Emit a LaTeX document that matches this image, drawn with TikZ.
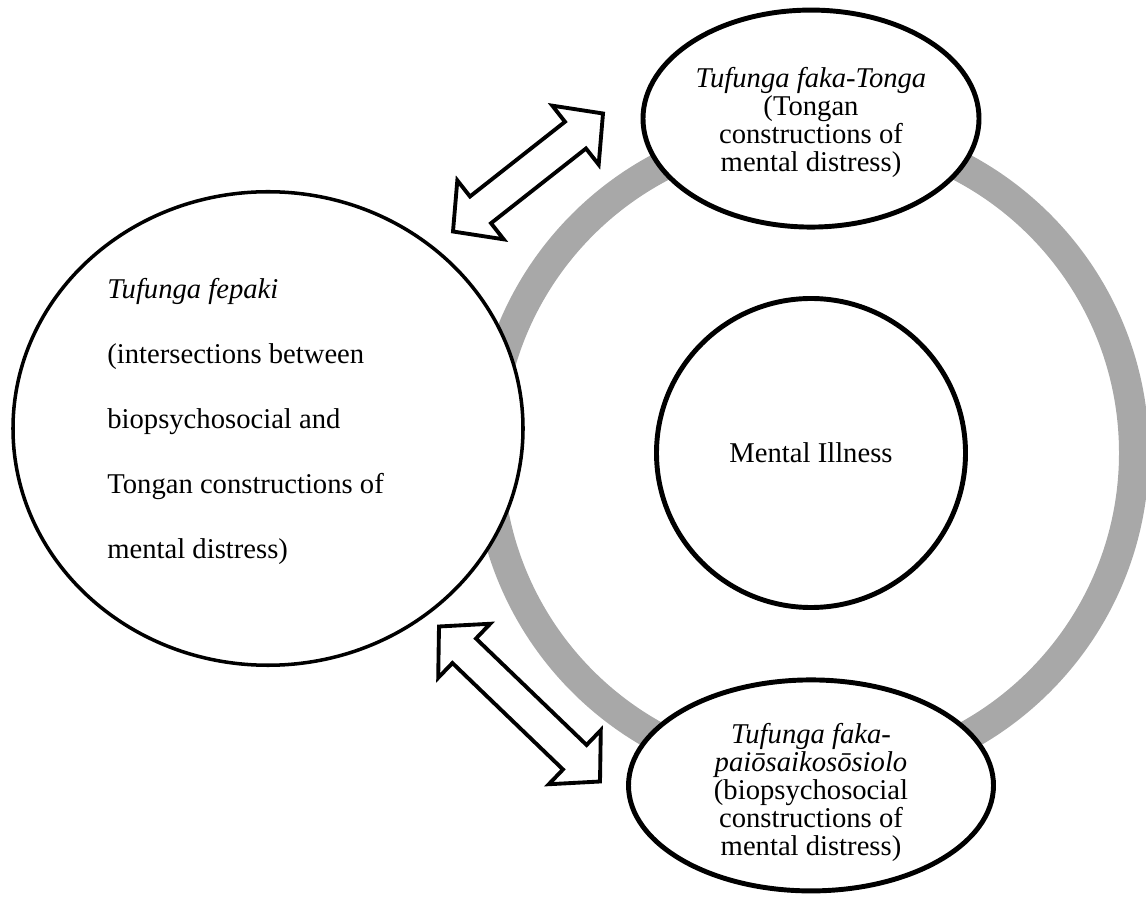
\documentclass[tikz,border=0pt]{standalone}
\usepackage{fontspec}
\setmainfont{Liberation Serif}
\usepackage{tikz}
\usetikzlibrary{calc,positioning,shapes.geometric}

\definecolor{ringgray}{HTML}{A8A8A8}

\newcommand{\blockarrow}[2]{%
  \draw[arrowbox] (#1)
    -- ($(#1)!0.7cm!(#2)!0.75cm!90:(#2)$)
    -- ($(#1)!0.7cm!(#2)!0.34cm!90:(#2)$)
    -- ($(#2)!0.7cm!(#1)!0.34cm!-90:(#1)$)
    -- ($(#2)!0.7cm!(#1)!0.75cm!-90:(#1)$)
    -- (#2)
    -- ($(#2)!0.7cm!(#1)!0.75cm!90:(#1)$)
    -- ($(#2)!0.7cm!(#1)!0.34cm!90:(#1)$)
    -- ($(#1)!0.7cm!(#2)!0.34cm!-90:(#2)$)
    -- ($(#1)!0.7cm!(#2)!0.75cm!-90:(#2)$)
    -- cycle;}

\begin{document}
\begin{tikzpicture}[
            every node/.style={font=\fontsize{16.3}{15.9}\selectfont},
            bubble/.style={draw, line width=2.8pt, fill=white, ellipse, inner sep=0pt, align=center},
            arrowbox/.style={draw, line width=2.2pt, fill=white, line join=miter},
        ]
            \useasboundingbox (0,0) rectangle (22.92,17.92);

            \draw[ringgray, line width=0.6cm] (16.22,8.86) circle (6.46);

            \node[bubble, minimum width=10.2cm, minimum height=9.47cm, line width=2pt] (fepaki) at (5.36,9.35) {};
            \node[anchor=north west, align=left, inner sep=0pt, font=\fontsize{16.3}{37}\selectfont] (fepakitxt) at (2.14,12.37)
                {\textit{Tufunga fepaki}\\(intersections between\\biopsychosocial and\\Tongan constructions of\\mental distress)};

            \node[bubble, circle, minimum size=6.18cm] (illness) at (16.22,8.86) {Mental Illness};

            \node[bubble, minimum width=6.72cm, minimum height=4.34cm, above=1.33cm of illness] (tonga) {};
            \node[align=center, inner sep=0pt] (tongatxt) at ([yshift=-0.08cm]tonga.center)
                {\textit{Tufunga faka-Tonga}\\(Tongan\\constructions of\\mental distress)};

            \node[bubble, minimum width=7.3cm, minimum height=4.22cm, below=1.35cm of illness] (paio) {};
            \node[align=center, inner sep=0pt] (paiotxt) at ([yshift=-0.14cm]paio.center)
                {\textit{Tufunga faka-}\\\textit{paiōsaikosōsiolo}\\(biopsychosocial\\constructions of\\mental distress)};

            \coordinate (fepakitop) at (9.06,13.29);
            \coordinate (tongaleft) at (12.06,15.65);
            \coordinate (fepakibottom) at (8.78,5.39);
            \coordinate (paioleft) at (12.00,2.29);

            \blockarrow{fepakitop}{tongaleft}
            \blockarrow{fepakibottom}{paioleft}

        \end{tikzpicture}
\end{document}
